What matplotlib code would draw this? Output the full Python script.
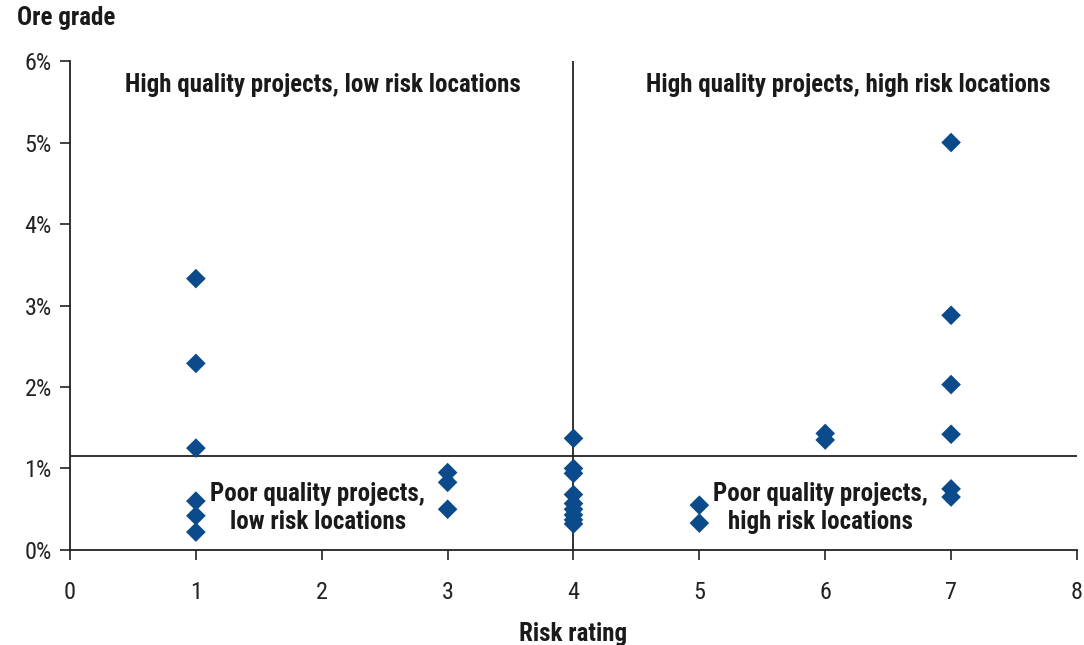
import matplotlib
matplotlib.use("Agg")
import matplotlib.pyplot as plt
from matplotlib.ticker import FuncFormatter

plt.rcParams['font.family'] = ['Roboto Condensed', 'DejaVu Sans']

# Risk rating (x) and ore grade in % (y) for each project
risk_rating = [1, 1, 1, 1, 1, 1,
               3, 3, 3,
               4, 4, 4, 4, 4, 4, 4, 4, 4,
               5, 5,
               6, 6,
               7, 7, 7, 7, 7, 7]
ore_grade = [3.33, 2.29, 1.25, 0.60, 0.42, 0.22,
             0.95, 0.83, 0.50,
             1.37, 1.00, 0.94, 0.68, 0.57, 0.50, 0.43, 0.37, 0.32,
             0.55, 0.33,
             1.43, 1.35,
             5.00, 2.88, 2.03, 1.42, 0.75, 0.65]

grade_threshold = 1.15
risk_threshold = 4

x_ticks = [0, 1, 2, 3, 4, 5, 6, 7, 8]
y_ticks = [0, 1, 2, 3, 4, 5, 6]

quadrant_labels = [
    (2.01, 5.71, "High quality projects, low risk locations"),
    (6.18, 5.71, "High quality projects, high risk locations"),
    (1.97, 0.52, "Poor quality projects,\nlow risk locations"),
    (5.96, 0.52, "Poor quality projects,\nhigh risk locations"),
]

fig = plt.figure(figsize=(10.84, 6.45), dpi=100)
ax = fig.add_axes([0.0646, 0.1473, 0.9289, 0.7581])

ax.axhline(grade_threshold, color="#222222", lw=1.3, zorder=1)
ax.plot([risk_threshold, risk_threshold], [0, 6], color="#222222", lw=1.3, zorder=1)

ax.scatter(risk_rating, ore_grade, marker="D", s=100, color="#0b4a8b",
           edgecolors="none", zorder=3)

for x, y, txt in quadrant_labels:
    ax.text(x, y, txt, ha="center", va="center", fontsize=18,
            fontweight="bold", color="#1a1a1a", linespacing=1.2, zorder=4)

ax.set_xlim(0, 8)
ax.set_ylim(0, 6)
ax.set_xticks(x_ticks)
ax.set_yticks(y_ticks)
ax.yaxis.set_major_formatter(FuncFormatter(lambda v, p: f"{v:.0f}%"))

for side in ("top", "right"):
    ax.spines[side].set_visible(False)
for side in ("left", "bottom"):
    ax.spines[side].set_color("#222222")
    ax.spines[side].set_linewidth(1.3)

ax.tick_params(axis="both", direction="out", length=7, width=1.2,
               color="#222222", labelsize=17.5, labelcolor="#222222")
ax.tick_params(axis="x", pad=15)
ax.tick_params(axis="y", pad=6)

ax.set_xlabel("Risk rating", fontsize=18, fontweight="bold",
              color="#1a1a1a", labelpad=13)
fig.text(0.016, 0.972, "Ore grade", fontsize=18, fontweight="bold",
         color="#1a1a1a", ha="left", va="center")

fig.savefig("out.png", dpi=100, facecolor="white")
